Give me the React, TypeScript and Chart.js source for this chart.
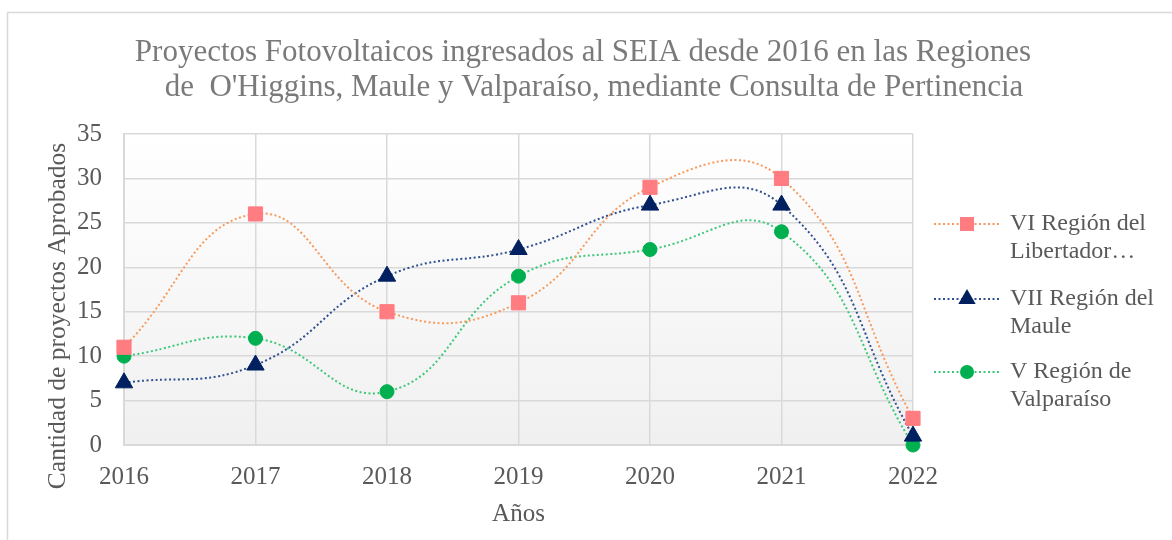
import React, { useEffect, useRef } from 'react';
import { Chart, registerables } from 'chart.js';

Chart.register(...registerables);

const years = ['2016', '2017', '2018', '2019', '2020', '2021', '2022'];
const region6 = [11, 26, 15, 16, 29, 30, 3];
const region7 = [7, 9, 19, 22, 27, 27, 1];
const region5 = [10, 12, 6, 19, 22, 24, 0];
const seriesNames = ['VI Región del Libertador…', 'VII Región del Maule', 'V Región de Valparaíso'];
const legendLines = [
  ['VI Región del', 'Libertador…'],
  ['VII Región del', 'Maule'],
  ['V Región de', 'Valparaíso'],
];
const titleLines = [
  'Proyectos Fotovoltaicos ingresados al SEIA desde 2016 en las Regiones',
  "de  O'Higgins, Maule y Valparaíso, mediante Consulta de Pertinencia",
];
const yTitle = 'Cantidad de proyectos Aprobados';
const xTitle = 'Años';
const yTicks = { min: 0, max: 35, step: 5 };

const FONT = "'Liberation Serif', 'Times New Roman', serif";
const TEXT = '#595959';
const GRID = '#d9d9d9';

const plotBg = {
  id: 'plotBg',
  beforeDraw(chart: any) {
    const { ctx, chartArea: a } = chart;
    ctx.save();
    ctx.fillStyle = '#ffffff';
    ctx.fillRect(0, 0, chart.width, chart.height);
    ctx.strokeStyle = GRID;
    ctx.lineWidth = 1.5;
    ctx.strokeRect(7.5, 12.5, 1300, 700);
    const g = ctx.createLinearGradient(0, a.top, 0, a.bottom);
    g.addColorStop(0, '#ffffff');
    g.addColorStop(1, '#f0f0f0');
    ctx.fillStyle = g;
    ctx.fillRect(a.left, a.top, a.right - a.left, a.bottom - a.top);
    ctx.restore();
  },
};

const texts = {
  id: 'texts',
  afterDraw(chart: any) {
    const { ctx } = chart;
    ctx.save();
    ctx.fillStyle = '#7a7a7a';
    ctx.font = `31px ${FONT}`;
    ctx.textAlign = 'center';
    ctx.textBaseline = 'alphabetic';
    ctx.fillText(titleLines[0], 583, 61);
    ctx.fillText(titleLines[1], 594, 96);
    ctx.fillStyle = TEXT;
    ctx.font = `25.5px ${FONT}`;
    ctx.textBaseline = 'middle';
    ctx.translate(58, 316);
    ctx.rotate(-Math.PI / 2);
    ctx.fillText(yTitle, 0, 0);
    ctx.restore();
  },
};

function drawMarker(ctx: any, style: string, x: number, y: number, color: string) {
  ctx.fillStyle = color;
  ctx.beginPath();
  if (style === 'rect') {
    ctx.rect(x - 7, y - 7, 14, 14);
  } else if (style === 'triangle') {
    ctx.moveTo(x, y - 10);
    ctx.lineTo(x + 8.7, y + 5);
    ctx.lineTo(x - 8.7, y + 5);
    ctx.closePath();
  } else {
    ctx.arc(x, y, 7, 0, Math.PI * 2);
  }
  ctx.fill();
}

const sideLegend = {
  id: 'sideLegend',
  afterDraw(chart: any) {
    const { ctx } = chart;
    const rows = [224, 299, 372];
    ctx.save();
    chart.data.datasets.forEach((ds: any, i: number) => {
      const y = rows[i];
      ctx.strokeStyle = ds.borderColor;
      ctx.lineWidth = 2;
      ctx.setLineDash(ds.borderDash);
      ctx.beginPath();
      ctx.moveTo(934, y);
      ctx.lineTo(1000, y);
      ctx.stroke();
      ctx.setLineDash([]);
      drawMarker(ctx, ds.pointStyle, 967, y, ds.pointBackgroundColor);
      ctx.fillStyle = TEXT;
      ctx.font = `24px ${FONT}`;
      ctx.textBaseline = 'middle';
      ctx.textAlign = 'left';
      legendLines[i].forEach((t, j) => ctx.fillText(t, 1010, y + j * 28));
    });
    ctx.restore();
  },
};

export default function App() {
  const ref = useRef<HTMLCanvasElement>(null);
  useEffect(() => {
    if (!ref.current) return;
    const common = {
      fill: false,
      clip: false,
      borderWidth: 2,
      borderDash: [2, 2.5],
      tension: 0.45,
      pointBorderWidth: 1,
    };
    const chart = new Chart(ref.current, {
      type: 'line',
      data: {
        labels: years,
        datasets: [
          {
            ...common,
            label: seriesNames[0],
            data: region6,
            borderColor: '#F79A5C',
            pointStyle: 'rect',
            pointRadius: 10,
            pointBackgroundColor: '#FF7C80',
            pointBorderColor: '#FF7C80',
          },
          {
            ...common,
            label: seriesNames[1],
            data: region7,
            borderColor: '#2F4F8F',
            pointStyle: 'triangle',
            pointRadius: 10,
            pointBackgroundColor: '#002060',
            pointBorderColor: '#002060',
          },
          {
            ...common,
            label: seriesNames[2],
            data: region5,
            borderColor: '#3CC878',
            pointStyle: 'circle',
            pointRadius: 7,
            pointBackgroundColor: '#00B050',
            pointBorderColor: '#00B050',
          },
        ],
      },
      options: {
        responsive: false,
        animation: false,
        devicePixelRatio: 1,
        layout: { padding: { left: 0, right: 259, top: 134, bottom: 0 } },
        plugins: {
          legend: { display: false },
          tooltip: { enabled: false },
          title: { display: false },
        },
        scales: {
          x: {
            type: 'category',
            offset: false,
            grid: { color: GRID, lineWidth: 1.5, drawTicks: false },
            border: { color: GRID, width: 2 },
            ticks: { color: TEXT, font: { family: FONT, size: 25 }, padding: 17, maxRotation: 0 },
            title: {
              display: true,
              text: xTitle,
              color: TEXT,
              font: { family: FONT, size: 25 },
              padding: { top: 0, bottom: 11 },
            },
            afterFit(s: any) {
              s.height = 95;
            },
          },
          y: {
            min: yTicks.min,
            max: yTicks.max,
            grid: { color: GRID, lineWidth: 1.5, drawTicks: false },
            border: { color: GRID, width: 2 },
            ticks: { stepSize: yTicks.step, color: TEXT, font: { family: FONT, size: 25 }, padding: 22 },
            title: { display: false, text: yTitle },
            afterFit(s: any) {
              s.width = 124;
            },
          },
        },
      },
      plugins: [plotBg, sideLegend, texts],
    } as any);
    return () => chart.destroy();
  }, []);
  return (
    <div style={{ position: 'fixed', left: 0, top: 0, width: 1172, height: 540, background: '#fff' }}>
      <canvas ref={ref} width={1172} height={540} style={{ width: 1172, height: 540, display: 'block' }} />
    </div>
  );
}
